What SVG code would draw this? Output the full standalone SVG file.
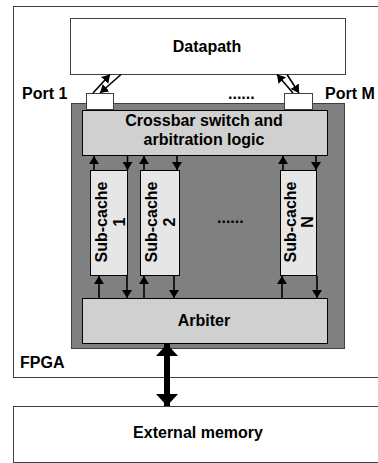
<svg xmlns="http://www.w3.org/2000/svg" width="378" height="463" viewBox="0 0 378 463">
<style>
text{font-family:"Liberation Sans",Arial,sans-serif;font-weight:bold;font-size:16px;fill:#000}
.c{text-anchor:middle}
.ln{stroke:#000;stroke-width:1.6;fill:none}
</style>
<defs>
<marker id="ah" viewBox="0 0 8 10" refX="8" refY="5" markerWidth="8" markerHeight="10" markerUnits="userSpaceOnUse" orient="auto"><path d="M0,0 L8,5 L0,10 z" fill="#000"/></marker>
<marker id="big" viewBox="0 0 12 22" refX="12" refY="11" markerWidth="12" markerHeight="22" markerUnits="userSpaceOnUse" orient="auto-start-reverse"><path d="M0,0 L12,11 L0,22 z" fill="#000"/></marker>
</defs>
<rect width="378" height="463" fill="#fff"/>
<g id="fpga"><rect x="13.5" y="6.5" width="370" height="371" fill="#fff" stroke="#404040"/><text x="20" y="368">FPGA</text></g>
<g id="extmem"><rect x="13.5" y="406.5" width="370" height="56" fill="#fff" stroke="#404040"/><text class="c" x="198" y="438">External memory</text></g>
<g id="datapath"><rect x="70.5" y="18.5" width="275" height="56" fill="#fff" stroke="#404040"/><text class="c" x="207" y="52">Datapath</text></g>
<g id="cachebox"><rect x="71.5" y="103.5" width="273" height="245" fill="#808080" stroke="#404040"/></g>
<g id="crossbar"><rect x="82.5" y="110.5" width="245" height="45" fill="#d0d0d0" stroke="#000"/><text class="c" x="204" y="126">Crossbar switch and</text><text class="c" x="204" y="145">arbitration logic</text></g>
<g id="port1"><rect x="86.5" y="93.5" width="27" height="16" fill="#fff" stroke="#404040"/><text x="22" y="99">Port 1</text></g>
<g id="portM"><rect x="284.5" y="93.5" width="28" height="16" fill="#fff" stroke="#404040"/><text x="325" y="99">Port M</text></g>
<text x="228" y="99">......</text>
<g id="sub1"><rect x="90.5" y="170.5" width="37" height="105" fill="#e6e6e6" stroke="#000"/><text class="c" transform="translate(107,222) rotate(-90)">Sub-cache</text><text class="c" transform="translate(125,222) rotate(-90)">1</text></g>
<g id="sub2"><rect x="140.5" y="170.5" width="39" height="105" fill="#e6e6e6" stroke="#000"/><text class="c" transform="translate(157,222) rotate(-90)">Sub-cache</text><text class="c" transform="translate(175,222) rotate(-90)">2</text></g>
<g id="subN"><rect x="280.5" y="170.5" width="36" height="105" fill="#e6e6e6" stroke="#000"/><text class="c" transform="translate(296,222) rotate(-90)">Sub-cache</text><text class="c" transform="translate(313,222) rotate(-90)">N</text></g>
<text x="217" y="223">......</text>
<g id="arbiter"><rect x="82.5" y="298.5" width="245" height="45" fill="#d0d0d0" stroke="#000"/><text class="c" x="204" y="326">Arbiter</text></g>
<g id="connectors">
<line class="ln" x1="93" y1="93" x2="110" y2="74.5" marker-end="url(#ah)"/>
<line class="ln" x1="121" y1="74.5" x2="100" y2="93" marker-end="url(#ah)"/>
<line class="ln" x1="293" y1="93" x2="277" y2="74.5" marker-end="url(#ah)"/>
<line class="ln" x1="287" y1="74.5" x2="299" y2="93" marker-end="url(#ah)"/>
<line class="ln" x1="94" y1="170" x2="94" y2="156" marker-end="url(#ah)"/>
<line class="ln" x1="127.5" y1="156" x2="127.5" y2="170" marker-end="url(#ah)"/>
<line class="ln" x1="144" y1="170" x2="144" y2="156" marker-end="url(#ah)"/>
<line class="ln" x1="177" y1="156" x2="177" y2="170" marker-end="url(#ah)"/>
<line class="ln" x1="283" y1="170" x2="283" y2="156" marker-end="url(#ah)"/>
<line class="ln" x1="316" y1="156" x2="316" y2="170" marker-end="url(#ah)"/>
<line class="ln" x1="99" y1="298" x2="99" y2="276" marker-end="url(#ah)"/>
<line class="ln" x1="127" y1="276" x2="127" y2="298" marker-end="url(#ah)"/>
<line class="ln" x1="144" y1="298" x2="144" y2="276" marker-end="url(#ah)"/>
<line class="ln" x1="174" y1="276" x2="174" y2="298" marker-end="url(#ah)"/>
<line class="ln" x1="282" y1="298" x2="282" y2="276" marker-end="url(#ah)"/>
<line class="ln" x1="317" y1="276" x2="317" y2="298" marker-end="url(#ah)"/>
<line x1="167" y1="344" x2="167" y2="406" stroke="#000" stroke-width="6" marker-start="url(#big)" marker-end="url(#big)"/>
</g>
</svg>
